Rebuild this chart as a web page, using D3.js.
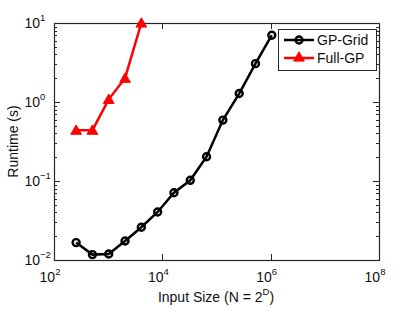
<!DOCTYPE html>
<html>
<head>
<meta charset="utf-8">
<script src="https://cdn.jsdelivr.net/npm/d3@7"></script>
<style>
  body { margin: 0; background: #fff; }
  svg text { font-family: "Liberation Sans", Arial, sans-serif; }
</style>
</head>
<body>
<div id="chart"></div>
<script>
// Données
const gridD = [8, 9, 10, 11, 12, 13, 14, 15, 16, 17, 18, 19, 20];
const gridTime = [0.0166, 0.0117, 0.0119, 0.0174, 0.026, 0.0405, 0.071, 0.102, 0.203, 0.59, 1.28, 3.06, 7.0];
const fullD = [8, 9, 10, 11, 12];
const fullTime = [0.44, 0.44, 1.08, 2.0, 10.0];
const xTicks = [1e2, 1e4, 1e6, 1e8];
const xTickExp = ["2", "4", "6", "8"];
const yTicks = [1e-2, 1e-1, 1e0, 1e1];
const yTickExp = ["−2", "−1", "0", "1"];
const seriesNames = ["GP-Grid", "Full-GP"];

// Crée le svg
const svg = d3.select("#chart")
    .append("svg")
    .attr("width", 415)
    .attr("height", 312);

const pLeft = 54, pRight = 379, pTop = 23, pBottom = 260;
const fs = 14, fsSup = 9.5;

// Échelles log
const x = d3.scaleLog().domain([1e2, 1e8]).range([pLeft, pRight]);
const y = d3.scaleLog().domain([1e-2, 1e1]).range([pBottom, pTop]);

const axisColor = "#262626";

// Ticks mineurs sur Y (gauche et droite)
const minorY = [];
for (let e = -2; e < 1; e++) {
    for (let k = 2; k <= 9; k++) minorY.push(k * Math.pow(10, e));
}
svg.append("g")
    .selectAll("line")
    .data(minorY)
    .enter()
    .append("line")
    .attr("x1", pLeft).attr("x2", pLeft + 3)
    .attr("y1", d => Math.round(y(d)) + 0.5).attr("y2", d => Math.round(y(d)) + 0.5)
    .attr("stroke", axisColor);
svg.append("g")
    .selectAll("line")
    .data(minorY)
    .enter()
    .append("line")
    .attr("x1", pRight).attr("x2", pRight - 3)
    .attr("y1", d => Math.round(y(d)) + 0.5).attr("y2", d => Math.round(y(d)) + 0.5)
    .attr("stroke", axisColor);

// Ticks majeurs Y
svg.append("g")
    .selectAll("line")
    .data(yTicks)
    .enter()
    .append("line")
    .attr("x1", pLeft).attr("x2", pLeft + 6)
    .attr("y1", d => Math.round(y(d)) + 0.5).attr("y2", d => Math.round(y(d)) + 0.5)
    .attr("stroke", axisColor);
svg.append("g")
    .selectAll("line")
    .data(yTicks)
    .enter()
    .append("line")
    .attr("x1", pRight).attr("x2", pRight - 6)
    .attr("y1", d => Math.round(y(d)) + 0.5).attr("y2", d => Math.round(y(d)) + 0.5)
    .attr("stroke", axisColor);

// Ticks majeurs X (bas et haut)
svg.append("g")
    .selectAll("line")
    .data(xTicks)
    .enter()
    .append("line")
    .attr("x1", d => Math.round(x(d)) + 0.5).attr("x2", d => Math.round(x(d)) + 0.5)
    .attr("y1", pBottom).attr("y2", pBottom - 6)
    .attr("stroke", axisColor);
svg.append("g")
    .selectAll("line")
    .data(xTicks)
    .enter()
    .append("line")
    .attr("x1", d => Math.round(x(d)) + 0.5).attr("x2", d => Math.round(x(d)) + 0.5)
    .attr("y1", pTop).attr("y2", pTop + 6)
    .attr("stroke", axisColor);

// Cadre
svg.append("rect")
    .attr("x", pLeft + 0.5).attr("y", pTop + 0.5)
    .attr("width", pRight - pLeft).attr("height", pBottom - pTop)
    .attr("fill", "none")
    .attr("stroke", axisColor)
    .attr("stroke-width", 1.2);

// Étiquettes X
const xLab = svg.append("g")
    .selectAll("text")
    .data(xTicks)
    .enter()
    .append("text")
    .attr("x", d => x(d) - 4)
    .attr("y", 282)
    .attr("text-anchor", "middle")
    .attr("font-size", fs)
    .attr("fill", "#111");
xLab.append("tspan").text("10");
xLab.append("tspan")
    .attr("dy", -7)
    .attr("font-size", fsSup)
    .text((d, i) => xTickExp[i]);

// Étiquettes Y
svg.append("g")
    .selectAll("text")
    .data(yTicks)
    .enter()
    .append("text")
    .attr("x", 40)
    .attr("y", d => y(d) + 5)
    .attr("text-anchor", "end")
    .attr("font-size", fs)
    .attr("fill", "#111")
    .text("10");
svg.append("g")
    .selectAll("text")
    .data(yTicks)
    .enter()
    .append("text")
    .attr("x", 40)
    .attr("y", d => y(d) - 2)
    .attr("text-anchor", "start")
    .attr("font-size", fsSup)
    .attr("fill", "#111")
    .text((d, i) => yTickExp[i]);

// Titres des axes
const xTitle = svg.append("text")
    .attr("x", 216)
    .attr("y", 302)
    .attr("text-anchor", "middle")
    .attr("font-size", fs)
    .attr("fill", "#111");
xTitle.append("tspan").text("Input Size (N = 2");
xTitle.append("tspan").attr("dy", -7).attr("font-size", fsSup).text("D");
xTitle.append("tspan").attr("dy", 7).text(")");

svg.append("text")
    .attr("transform", "translate(18," + ((pTop + pBottom) / 2) + ") rotate(-90)")
    .attr("text-anchor", "middle")
    .attr("font-size", fs)
    .attr("fill", "#111")
    .text("Runtime (s)");

// Courbes
const line = d3.line()
    .x(d => x(Math.pow(2, d[0])))
    .y(d => y(d[1]));

const gridPts = gridD.map((d, i) => [d, gridTime[i]]);
const fullPts = fullD.map((d, i) => [d, fullTime[i]]);

svg.append("path")
    .datum(fullPts)
    .attr("d", line)
    .attr("fill", "none")
    .attr("stroke", "#ff0000")
    .attr("stroke-width", 2.5);

const tri = d3.symbol().type(d3.symbolTriangle).size(50);
svg.append("g")
    .selectAll("path")
    .data(fullPts)
    .enter()
    .append("path")
    .attr("d", tri)
    .attr("transform", d => "translate(" + x(Math.pow(2, d[0])) + "," + (y(d[1]) + 1) + ")")
    .attr("fill", "#ff0000")
    .attr("stroke", "#ff0000")
    .attr("stroke-width", 1);

svg.append("path")
    .datum(gridPts)
    .attr("d", line)
    .attr("fill", "none")
    .attr("stroke", "#000")
    .attr("stroke-width", 2.5);

svg.append("g")
    .selectAll("circle")
    .data(gridPts)
    .enter()
    .append("circle")
    .attr("cx", d => x(Math.pow(2, d[0])))
    .attr("cy", d => y(d[1]))
    .attr("r", 3.5)
    .attr("fill", "none")
    .attr("stroke", "#000")
    .attr("stroke-width", 2.4);

// Légende
const legend = svg.append("g");
legend.append("rect")
    .attr("x", 278.5).attr("y", 29.5)
    .attr("width", 98).attr("height", 41)
    .attr("fill", "#fff")
    .attr("stroke", axisColor);

const legRows = [
    { name: seriesNames[0], color: "#000", y: 40 },
    { name: seriesNames[1], color: "#ff0000", y: 58 }
];
legRows.forEach((r, i) => {
    legend.append("line")
        .attr("x1", 284).attr("x2", 314)
        .attr("y1", r.y).attr("y2", r.y)
        .attr("stroke", r.color)
        .attr("stroke-width", 2.5);
    if (i === 0) {
        legend.append("circle")
            .attr("cx", 299).attr("cy", r.y).attr("r", 3.5)
            .attr("fill", "none").attr("stroke", "#000").attr("stroke-width", 2.4);
    } else {
        legend.append("path")
            .attr("d", tri)
            .attr("transform", "translate(299," + (r.y) + ")")
            .attr("fill", "#ff0000").attr("stroke", "#ff0000");
    }
    legend.append("text")
        .attr("x", 317)
        .attr("y", r.y + 5)
        .attr("font-size", fs)
        .attr("fill", "#111")
        .text(r.name);
});
</script>
</body>
</html>
